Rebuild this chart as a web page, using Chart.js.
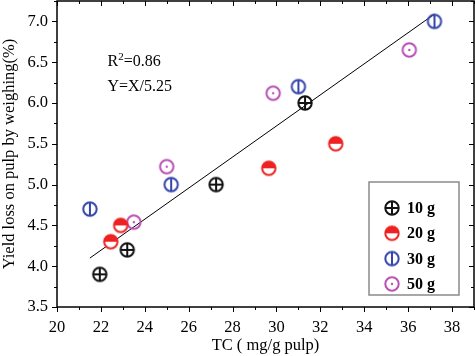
<!DOCTYPE html>
<html>
<head>
<meta charset="utf-8">
<script src="https://cdn.jsdelivr.net/npm/chart.js@4"></script>
<style>
  html, body { margin: 0; padding: 0; background: #fff; }
  canvas { display: block; }
</style>
</head>
<body>
<canvas id="grafico" width="475" height="356"></canvas>
<script>
// datos
const x10 = [21.95, 23.2, 27.25, 31.3];
const y10 = [3.9, 4.2, 5.0, 6.0];
const x20 = [22.45, 22.9, 29.65, 32.7];
const y20 = [4.3, 4.5, 5.2, 5.5];
const x30 = [21.5, 25.2, 31.0, 37.2];
const y30 = [4.7, 5.0, 6.2, 7.0];
const x50 = [23.5, 25.0, 29.85, 36.05];
const y50 = [4.54, 5.22, 6.12, 6.65];
const ajusteX = [21.5, 37.2];
const ajusteY = [4.1, 7.09];
const etiquetas = ["10 g", "20 g", "30 g", "50 g"];
const xTicks = [20, 22, 24, 26, 28, 30, 32, 34, 36, 38];
const yTicks = [3.5, 4.0, 4.5, 5.0, 5.5, 6.0, 6.5, 7.0];

const FUENTE = "'Liberation Serif', 'Times New Roman', serif";
const colores = ["#111111", "#ee2222", "#3344aa", "#b94fb5"];

// marcadores dibujados en canvas
function marcador(tipo, color) {
    const c = document.createElement("canvas");
    c.width = 18; c.height = 18;
    const g = c.getContext("2d");
    const cx = 9, cy = 9, r = 6.7;
    g.strokeStyle = color;
    g.fillStyle = color;
    g.lineWidth = 2;
    if (tipo === "medio") {
        g.beginPath();
        g.arc(cx, cy, r, Math.PI, 2 * Math.PI);
        g.closePath();
        g.fill();
        g.beginPath();
        g.arc(cx, cy, r, 0, Math.PI);
        g.closePath();
        g.fillStyle = "#fff";
        g.fill();
    }
    g.beginPath();
    g.arc(cx, cy, r, 0, 2 * Math.PI);
    g.stroke();
    if (tipo === "cruz") {
        g.beginPath();
        g.moveTo(cx - r, cy); g.lineTo(cx + r, cy);
        g.moveTo(cx, cy - r); g.lineTo(cx, cy + r);
        g.stroke();
    } else if (tipo === "vertical") {
        g.beginPath();
        g.moveTo(cx, cy - r); g.lineTo(cx, cy + r);
        g.stroke();
    } else if (tipo === "punto") {
        g.beginPath();
        g.arc(cx, cy, 1.2, 0, 2 * Math.PI);
        g.fill();
    }
    return c;
}

const marcas = [
    marcador("cruz", colores[0]),
    marcador("medio", colores[1]),
    marcador("vertical", colores[2]),
    marcador("punto", colores[3])
];

const pares = (xs, ys) => xs.map((x, i) => ({ x: x, y: ys[i] }));

const sinPadding = s => {
    s.paddingTop = 0; s.paddingBottom = 0;
    s.paddingLeft = 0; s.paddingRight = 0;
};

// marcas de ejes, recuadro, leyenda y anotaciones
const extras = {
    id: "extras",
    afterDraw(chart) {
        const ctx = chart.ctx;
        const a = chart.chartArea;
        const sx = chart.scales.x, sy = chart.scales.y;
        ctx.save();
        ctx.strokeStyle = "#000";
        ctx.lineWidth = 1.5;
        ctx.strokeRect(a.left, a.top, a.right - a.left, a.bottom - a.top);

        ctx.lineWidth = 1;
        for (let v = 20; v <= 39; v++) {
            const px = Math.round(sx.getPixelForValue(v)) + 0.5;
            const len = v % 2 === 0 ? 5 : 3;
            ctx.beginPath();
            ctx.moveTo(px, a.bottom); ctx.lineTo(px, a.bottom + len);
            ctx.moveTo(px, a.top); ctx.lineTo(px, a.top + len);
            ctx.stroke();
        }
        for (let k = 0; k <= 15; k++) {
            const v = 3.5 + k * 0.25;
            const py = Math.round(sy.getPixelForValue(v)) + 0.5;
            const len = k % 2 === 0 ? 5 : 3;
            ctx.beginPath();
            ctx.moveTo(a.left, py); ctx.lineTo(a.left - len, py);
            ctx.moveTo(a.right, py); ctx.lineTo(a.right - len, py);
            ctx.stroke();
        }

        // anotaciones
        ctx.fillStyle = "#000";
        ctx.font = "16px " + FUENTE;
        ctx.textBaseline = "middle";
        ctx.textAlign = "left";
        const ax = sx.getPixelForValue(22.3);
        const ay1 = sy.getPixelForValue(6.5);
        const ay2 = sy.getPixelForValue(6.2);
        ctx.fillText("R", ax, ay1);
        const wR = ctx.measureText("R").width;
        ctx.font = "11px " + FUENTE;
        ctx.fillText("2", ax + wR, ay1 - 5);
        const w2 = ctx.measureText("2").width;
        ctx.font = "16px " + FUENTE;
        ctx.fillText("=0.86", ax + wR + w2, ay1);
        ctx.fillText("Y=X/5.25", ax, ay2);

        // leyenda
        const bx = a.right - 105, by = a.bottom - 125, bw = 90, bh = 113;
        ctx.fillStyle = "#fff";
        ctx.fillRect(bx, by, bw, bh);
        ctx.strokeStyle = "#8a8a8a";
        ctx.lineWidth = 1.5;
        ctx.strokeRect(bx, by, bw, bh);
        ctx.font = "bold 16px " + FUENTE;
        ctx.fillStyle = "#000";
        etiquetas.forEach((t, i) => {
            const yy = by + 26 + i * 25.3;
            ctx.drawImage(marcas[i], bx + 23 - 9, yy - 9);
            ctx.fillText(t, bx + 38, yy + 1);
        });
        ctx.restore();
    }
};

const ctx = document.getElementById("grafico").getContext("2d");
new Chart(ctx, {
    type: "scatter",
    data: {
        datasets: [
            {
                label: "ajuste",
                type: "line",
                data: pares(ajusteX, ajusteY),
                borderColor: "#000",
                borderWidth: 1,
                pointRadius: 0,
                fill: false,
                order: 10
            },
            { label: etiquetas[0], data: pares(x10, y10), pointStyle: marcas[0], pointRadius: 9, order: 1 },
            { label: etiquetas[1], data: pares(x20, y20), pointStyle: marcas[1], pointRadius: 9, order: 1 },
            { label: etiquetas[2], data: pares(x30, y30), pointStyle: marcas[2], pointRadius: 9, order: 1 },
            { label: etiquetas[3], data: pares(x50, y50), pointStyle: marcas[3], pointRadius: 9, order: 1 }
        ]
    },
    options: {
        responsive: false,
        devicePixelRatio: 1,
        animation: false,
        layout: { autoPadding: false, padding: { top: 1, right: 1, left: 0, bottom: 0 } },
        plugins: {
            legend: { display: false },
            tooltip: { enabled: false }
        },
        scales: {
            x: {
                type: "linear",
                min: 20,
                max: 39,
                afterFit: s => { s.height = 49; sinPadding(s); },
                afterBuildTicks: s => { s.ticks = xTicks.map(v => ({ value: v })); },
                grid: { display: false, drawTicks: false },
                border: { display: false },
                ticks: {
                    padding: 11,
                    color: "#000",
                    font: { family: FUENTE, size: 16.5 },
                    maxRotation: 0,
                    callback: v => String(v)
                },
                title: {
                    display: true,
                    text: "TC ( mg/g pulp)",
                    color: "#000",
                    font: { family: FUENTE, size: 16.5 },
                    padding: { top: 0, bottom: 0 }
                }
            },
            y: {
                type: "linear",
                min: 3.5,
                max: 7.25,
                afterFit: s => { s.width = 57; sinPadding(s); },
                afterBuildTicks: s => { s.ticks = yTicks.map(v => ({ value: v })); },
                grid: { display: false, drawTicks: false },
                border: { display: false },
                ticks: {
                    padding: 9,
                    color: "#000",
                    font: { family: FUENTE, size: 16.5 },
                    callback: v => Number(v).toFixed(1)
                },
                title: {
                    display: true,
                    text: "Yield loss on pulp by weighing(%)",
                    color: "#000",
                    font: { family: FUENTE, size: 16.5 },
                    padding: { top: 0, bottom: 0 }
                }
            }
        }
    },
    plugins: [extras]
});
</script>
</body>
</html>
